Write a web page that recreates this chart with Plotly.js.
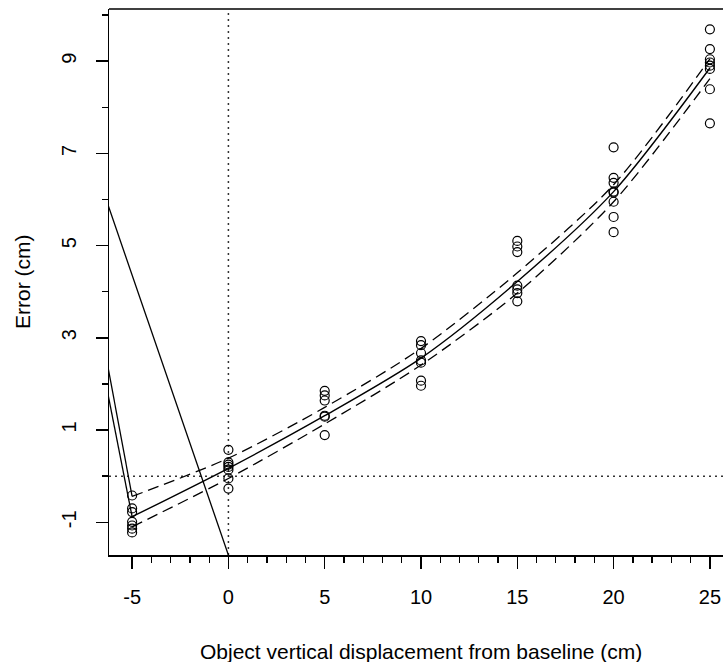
<!DOCTYPE html>
<html>
<head>
<meta charset="utf-8">
<script src="https://cdn.plot.ly/plotly-3.0.1.min.js"></script>
<style>html,body{margin:0;padding:0;background:#fff;}#chart{width:723px;height:662px;}</style>
</head>
<body>
<div id="chart"></div>
<script>
// observed points
const ptX = [-5,-5,-5,-5,-5,-5,-5,
             0,0,0,0,0,0,0,
             5,5,5,5,5,5,
             10,10,10,10,10,10,10,
             15,15,15,15,15,15,15,
             20,20,20,20,20,20,20,20,
             25,25,25,25,25,25,25,25];
const ptY = [-0.42,-0.70,-0.78,-0.99,-1.07,-1.14,-1.22,
             0.57,0.30,0.25,0.20,0.14,-0.05,-0.27,
             1.85,1.75,1.64,1.31,1.29,0.89,
             2.93,2.84,2.67,2.51,2.46,2.07,1.96,
             5.10,4.98,4.86,4.13,4.05,3.97,3.79,
             7.13,6.47,6.36,6.17,6.15,5.95,5.62,5.29,
             9.69,9.26,9.04,8.97,8.90,8.83,8.39,7.65];

// fitted curve and confidence band
const fitX   = [-5, 0, 5, 10, 15, 20, 25];
const fitY   = [-0.88, 0.17, 1.31, 2.56, 4.22, 6.17, 8.85];
const upperY = [-0.44, 0.39, 1.49, 2.77, 4.41, 6.32, 9.05];
const lowerY = [-1.10, -0.05, 1.13, 2.41, 3.97, 5.95, 8.62];

// stray segments running off the plot region (clipped)
const strayAX = [-5, -7];   const strayAY = [-0.44, 4.04];
const strayBX = [-5, -7];   const strayBY = [-0.88, 3.36];
const strayCX = [-7, 0.5];  const strayCY = [6.79, -2.32];

// ticks
const xTicks = [-5, 0, 5, 10, 15, 20, 25];
const yTicks = [-1, 1, 3, 5, 7, 9];

const xMinor = [];
for (let v = -5; v <= 25; v++) if (v % 5 !== 0) xMinor.push(v);

const black = '#000';
const traces = [
  {x: strayAX, y: strayAY, mode: 'lines', line: {color: black, width: 1.3}, hoverinfo: 'skip'},
  {x: strayBX, y: strayBY, mode: 'lines', line: {color: black, width: 1.3}, hoverinfo: 'skip'},
  {x: strayCX, y: strayCY, mode: 'lines', line: {color: black, width: 1.3}, hoverinfo: 'skip'},
  {x: fitX, y: upperY, mode: 'lines', line: {color: black, width: 1.3, dash: '11px,6px', shape: 'spline', smoothing: 0.8}},
  {x: fitX, y: lowerY, mode: 'lines', line: {color: black, width: 1.3, dash: '11px,6px', shape: 'spline', smoothing: 0.8}},
  {x: fitX, y: fitY, mode: 'lines', line: {color: black, width: 1.4, shape: 'spline', smoothing: 0.8}},
  {x: ptX, y: ptY, mode: 'markers', marker: {symbol: 'circle-open', size: 9, color: black, line: {width: 1.2, color: black}}}
];

const fnt = {family: 'Liberation Sans, Arial, sans-serif', size: 20, color: black};
const layout = {
  width: 723, height: 662,
  margin: {l: 109, r: 0, t: 9, b: 107, pad: 0},
  paper_bgcolor: '#fff', plot_bgcolor: '#fff',
  showlegend: false,
  font: fnt,
  xaxis: {
    range: [-6.2, 25.68], showgrid: false, zeroline: false,
    showline: true, linecolor: black, linewidth: 1.5,
    tickmode: 'array', tickvals: xTicks, ticktext: xTicks.map(String),
    ticks: 'outside', ticklen: 12, tickwidth: 1.5, tickcolor: black,
    ticklabelstandoff: 11,
    minor: {tickmode: 'array', tickvals: xMinor, ticks: 'outside', ticklen: 6, tickwidth: 1.3, tickcolor: black, showgrid: false},
    tickfont: fnt
  },
  yaxis: {
    range: [-1.71, 10.13], showgrid: false, zeroline: false,
    showline: true, linecolor: black, linewidth: 1.5,
    tickmode: 'array', tickvals: yTicks, ticktext: yTicks.map(String),
    ticks: 'outside', ticklen: 12, tickwidth: 1.5, tickcolor: black,
    tickangle: -90, ticklabelstandoff: 12,
    minor: {dtick: 1, tick0: 0, ticks: 'outside', ticklen: 6, tickwidth: 1.3, tickcolor: black, showgrid: false},
    tickfont: fnt
  },
  shapes: [
    {type: 'line', xref: 'paper', yref: 'paper', x0: 0, x1: 1, y0: 1, y1: 1, line: {color: black, width: 1.5}},
    {type: 'line', xref: 'x', yref: 'paper', x0: 0, x1: 0, y0: 0, y1: 1, line: {color: '#333', width: 1.5, dash: '2px,4px'}, layer: 'below'},
    {type: 'line', xref: 'paper', yref: 'y', x0: 0, x1: 1, y0: 0, y1: 0, line: {color: '#333', width: 1.5, dash: '2px,4px'}, layer: 'below'}
  ],
  annotations: [
    {text: 'Object vertical displacement from baseline (cm)', xref: 'paper', yref: 'paper',
     x: 0.508, y: -0.176, xanchor: 'center', yanchor: 'middle', showarrow: false,
     font: {family: 'Liberation Sans, Arial, sans-serif', size: 21, color: black}},
    {text: 'Error (cm)', xref: 'paper', yref: 'paper', textangle: -90,
     x: -0.1417, y: 0.5, xanchor: 'center', yanchor: 'middle', showarrow: false,
     font: {family: 'Liberation Sans, Arial, sans-serif', size: 21, color: black}}
  ]
};

Plotly.newPlot('chart', traces, layout, {staticPlot: true, displayModeBar: false});
</script>
</body>
</html>
